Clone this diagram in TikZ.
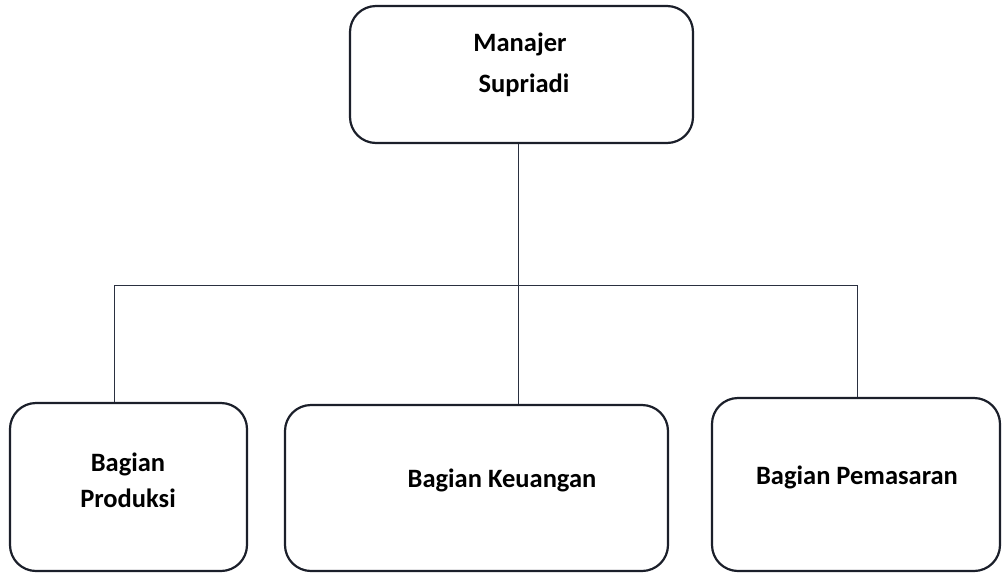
\documentclass[tikz,border=0pt]{standalone}
\usepackage{fontspec}
\setmainfont{Carlito}
\definecolor{ink}{HTML}{1B1F2A}
\definecolor{wire}{HTML}{2A3040}
\begin{document}
\begin{tikzpicture}[x=1pt,y=-1pt,
  orgbox/.style={draw=ink,line width=2.2pt,rounded corners=26pt,inner sep=0pt},
  lbl/.style={font=\bfseries\fontsize{26.5}{36}\selectfont,text=black,align=center,inner sep=0pt},
  wireline/.style={draw=wire,line width=1pt}]
\useasboundingbox (0,0) rectangle (1002,574);
\fill[white] (0,0) rectangle (1002,574);
% boxes
\node[orgbox,minimum width=343pt,minimum height=137pt] (top) at (521.5,74.5) {};
\node[orgbox,minimum width=237pt,minimum height=168pt] (lp) at (128.5,487) {};
\node[orgbox,minimum width=383pt,minimum height=166pt] (mp) at (476.5,488) {};
\node[orgbox,minimum width=288pt,minimum height=173pt] (rp) at (856,484.5) {};
% labels
\node[lbl] (t1) at (520,44) {Manajer};
\node[lbl] (t2) at (524,85) {Supriadi};
\node[lbl] (l1) at (128,480) {Bagian\\Produksi};
\node[lbl] (m1) at (502,480) {Bagian Keuangan};
\node[lbl] (r1) at (857,477) {Bagian Pemasaran};
% connectors
\coordinate (j) at (518,285);
\coordinate (hl) at (114,285);
\coordinate (hr) at (857,285);
\draw[wireline] (top.south -| j) -- (j);
\draw[wireline] (hl) -- (hr);
\draw[wireline] (hl) -- (lp.north -| hl);
\draw[wireline] (j) -- (mp.north -| j);
\draw[wireline] (hr) -- (rp.north -| hr);
\end{tikzpicture}
\end{document}
